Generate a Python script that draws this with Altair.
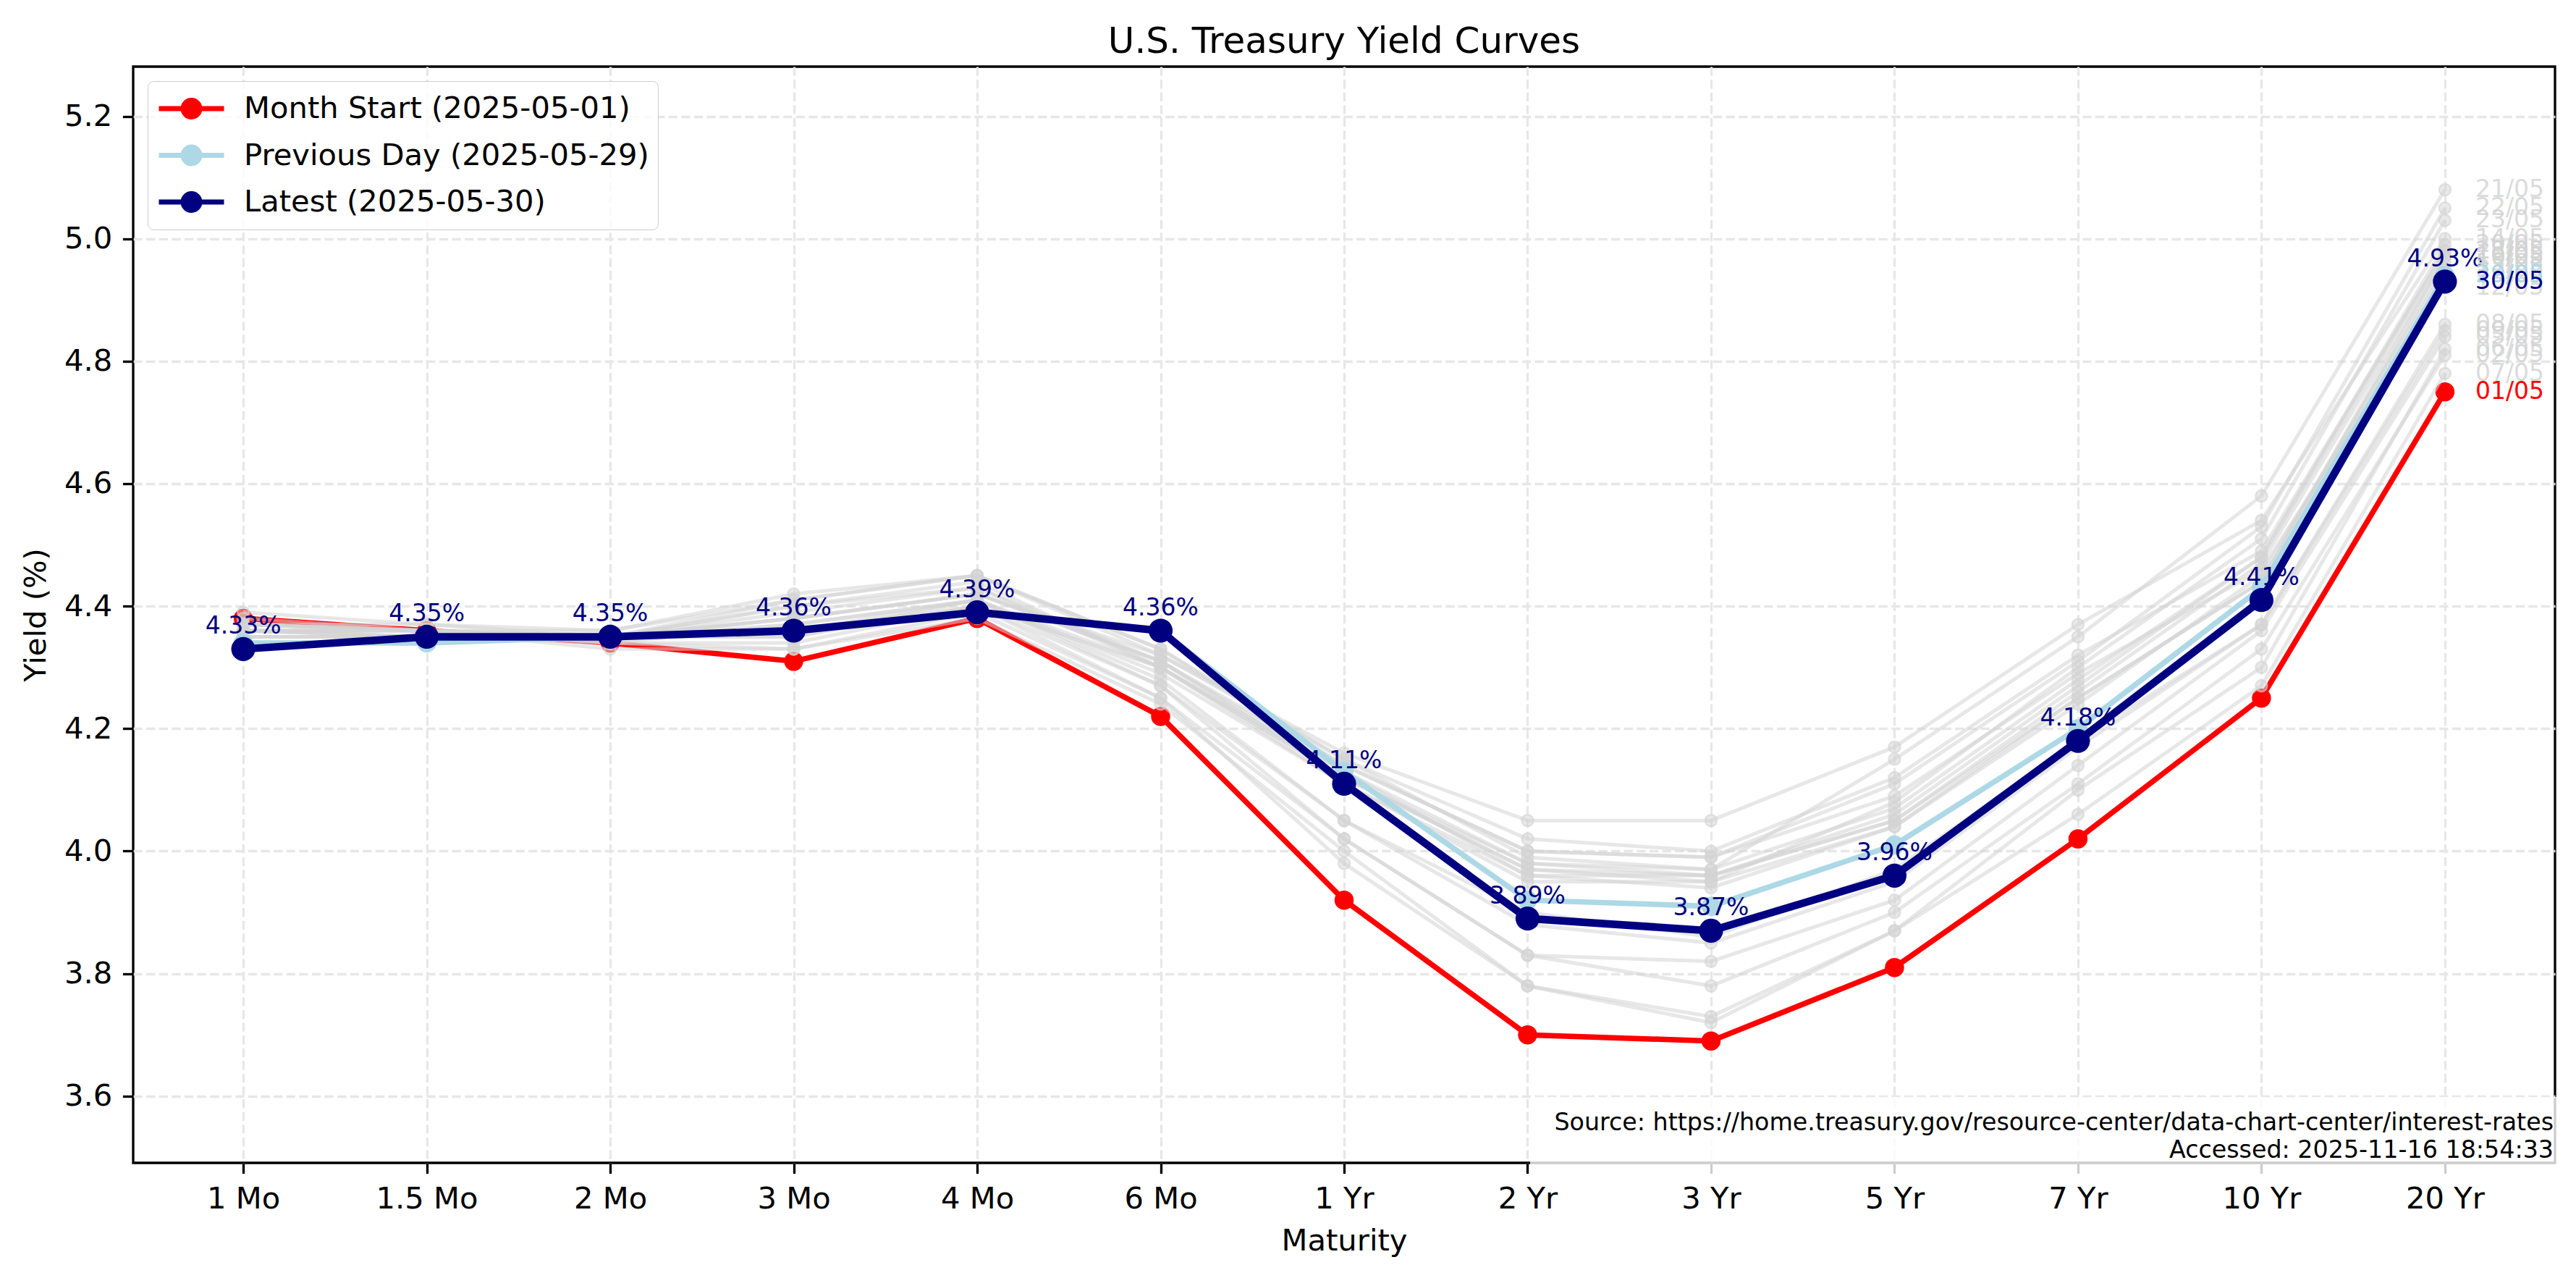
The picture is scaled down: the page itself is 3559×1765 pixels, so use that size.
import altair as alt
import pandas as pd

FONT = "DejaVu Sans"

maturities = ["1 Mo", "1.5 Mo", "2 Mo", "3 Mo", "4 Mo", "6 Mo", "1 Yr",
              "2 Yr", "3 Yr", "5 Yr", "7 Yr", "10 Yr", "20 Yr"]

# Highlighted curves (yield, %)
month_start = [4.38, 4.36, 4.34, 4.31, 4.38, 4.22, 3.92, 3.70, 3.69, 3.81, 4.02, 4.25, 4.75]
previous_day = [4.34, 4.34, 4.35, 4.36, 4.39, 4.36, 4.13, 3.92, 3.91, 4.01, 4.20, 4.43, 4.94]
latest = [4.33, 4.35, 4.35, 4.36, 4.39, 4.36, 4.11, 3.89, 3.87, 3.96, 4.18, 4.41, 4.93]

# Other trading days of the month
may_02 = [4.36, 4.36, 4.34, 4.34, 4.40, 4.25, 4.02, 3.83, 3.78, 3.90, 4.11, 4.33, 4.81]
may_05 = [4.37, 4.37, 4.35, 4.35, 4.40, 4.27, 4.02, 3.83, 3.82, 3.92, 4.14, 4.36, 4.84]
may_06 = [4.37, 4.36, 4.34, 4.33, 4.39, 4.25, 3.98, 3.78, 3.73, 3.87, 4.10, 4.30, 4.82]
may_07 = [4.38, 4.36, 4.33, 4.33, 4.38, 4.24, 4.00, 3.78, 3.72, 3.87, 4.06, 4.27, 4.78]
may_08 = [4.36, 4.36, 4.35, 4.35, 4.41, 4.27, 4.05, 3.90, 3.86, 3.97, 4.18, 4.37, 4.86]
may_09 = [4.37, 4.36, 4.35, 4.36, 4.41, 4.28, 4.05, 3.88, 3.85, 3.95, 4.17, 4.37, 4.85]
may_12 = [4.39, 4.37, 4.36, 4.41, 4.45, 4.33, 4.14, 4.00, 3.99, 4.09, 4.29, 4.46, 4.92]
may_13 = [4.37, 4.36, 4.36, 4.42, 4.45, 4.33, 4.15, 4.02, 4.00, 4.12, 4.32, 4.49, 4.98]
may_14 = [4.36, 4.36, 4.35, 4.41, 4.45, 4.32, 4.16, 4.05, 4.05, 4.17, 4.37, 4.54, 5.00]
may_15 = [4.36, 4.35, 4.35, 4.40, 4.44, 4.30, 4.11, 3.96, 3.94, 4.04, 4.25, 4.44, 4.96]
may_16 = [4.37, 4.36, 4.35, 4.40, 4.43, 4.31, 4.12, 3.98, 3.96, 4.05, 4.25, 4.44, 4.97]
may_19 = [4.36, 4.35, 4.35, 4.39, 4.43, 4.30, 4.12, 3.97, 3.96, 4.05, 4.26, 4.47, 4.97]
may_20 = [4.35, 4.35, 4.35, 4.38, 4.42, 4.31, 4.13, 3.98, 3.97, 4.07, 4.28, 4.48, 4.99]
may_21 = [4.36, 4.36, 4.35, 4.38, 4.42, 4.32, 4.15, 3.99, 3.97, 4.15, 4.35, 4.58, 5.08]
may_22 = [4.35, 4.35, 4.35, 4.38, 4.42, 4.31, 4.14, 4.00, 3.99, 4.11, 4.31, 4.53, 5.05]
may_23 = [4.36, 4.35, 4.34, 4.37, 4.41, 4.30, 4.12, 3.97, 3.95, 4.08, 4.30, 4.51, 5.03]
may_27 = [4.35, 4.35, 4.35, 4.37, 4.41, 4.29, 4.11, 3.95, 3.95, 4.04, 4.24, 4.45, 4.95]
may_28 = [4.34, 4.34, 4.35, 4.36, 4.40, 4.30, 4.13, 3.96, 3.96, 4.06, 4.27, 4.48, 4.98]

other_days = [
    ("02/05", may_02), ("05/05", may_05), ("06/05", may_06), ("07/05", may_07),
    ("08/05", may_08), ("09/05", may_09), ("12/05", may_12), ("13/05", may_13),
    ("14/05", may_14), ("15/05", may_15), ("16/05", may_16), ("19/05", may_19),
    ("20/05", may_20), ("21/05", may_21), ("22/05", may_22), ("23/05", may_23),
    ("27/05", may_27), ("28/05", may_28),
]

series_names = ["Month Start (2025-05-01)", "Previous Day (2025-05-29)", "Latest (2025-05-30)"]
series_colors = ["#ff0000", "#add8e6", "#000080"]
GRAY = "#d3d3d3"


def frame(values, series, day, color):
    return pd.DataFrame({
        "maturity": maturities,
        "yield": values,
        "series": series,
        "day": day,
        "tcolor": color,
    })


df_start = frame(month_start, series_names[0], "01/05", series_colors[0])
df_prev = frame(previous_day, series_names[1], "29/05", series_colors[1])
df_latest = frame(latest, series_names[2], "30/05", series_colors[2])
df_gray = pd.concat([frame(v, "other", d, GRAY) for d, v in other_days], ignore_index=True)
df_all = pd.concat([df_gray, df_start, df_prev, df_latest], ignore_index=True)

x_enc = alt.X(
    "maturity:N", sort=maturities, title="Maturity",
    scale=alt.Scale(type="point", padding=0.6),
    axis=alt.Axis(labelAngle=0),
)
y_enc = alt.Y(
    "yield:Q", title="Yield (%)",
    scale=alt.Scale(domain=[3.491, 5.281], nice=False, zero=False),
    axis=alt.Axis(values=[3.6, 3.8, 4.0, 4.2, 4.4, 4.6, 4.8, 5.0, 5.2], format=".1f"),
)

stroke_scale = alt.Scale(domain=series_names, range=series_colors)

# legend symbol: a short line with a filled dot in the middle
rings = "".join(
    f"M{1 + r:.2f},0A{r},{r},0,1,1,{1 - r:.2f},0A{r},{r},0,1,1,{1 + r:.2f},0"
    for r in (0.51, 0.36, 0.21, 0.06)
)
legend_symbol = "M-1,0L3,0" + rings

legend = alt.Legend(
    title=None, orient="top-left", offset=20, padding=12,
    strokeColor="#cccccc", fillColor="rgba(255,255,255,0.8)", cornerRadius=8,
    labelFont=FONT, labelFontSize=41.7, labelColor="black", labelLimit=2000,
    symbolType=legend_symbol, symbolSize=2025, symbolStrokeWidth=7,
    labelOffset=69, rowPadding=12.5,
)

start_line = alt.Chart(df_start).mark_line(strokeWidth=7.5).encode(
    x=x_enc, y=y_enc, stroke=alt.Stroke("series:N", scale=stroke_scale, legend=legend))
start_pts = alt.Chart(df_start).mark_circle(size=700, color=series_colors[0], opacity=1).encode(x=x_enc, y=y_enc)

gray_lines = alt.Chart(df_gray).mark_line(color=GRAY, strokeWidth=5, opacity=0.55).encode(
    x=x_enc, y=y_enc, detail="day:N")
gray_pts = alt.Chart(df_gray).mark_circle(
    size=260, fill=GRAY, fillOpacity=0.5, stroke=GRAY, strokeOpacity=0.6, strokeWidth=2.5
).encode(x=x_enc, y=y_enc)

prev_line = alt.Chart(df_prev).mark_line(strokeWidth=7.5).encode(
    x=x_enc, y=y_enc, stroke=alt.Stroke("series:N", scale=stroke_scale))
prev_pts = alt.Chart(df_prev).mark_circle(size=700, color=series_colors[1], opacity=1).encode(x=x_enc, y=y_enc)

latest_line = alt.Chart(df_latest).mark_line(strokeWidth=10.5).encode(
    x=x_enc, y=y_enc, stroke=alt.Stroke("series:N", scale=stroke_scale))
latest_pts = alt.Chart(df_latest).mark_circle(size=1100, color=series_colors[2], opacity=1).encode(x=x_enc, y=y_enc)

value_labels = alt.Chart(df_latest).transform_calculate(
    label="format(datum.yield, '.2f') + '%'"
).mark_text(
    font=FONT, fontSize=33, color=series_colors[2], align="center", baseline="alphabetic", dy=-21
).encode(x=x_enc, y=y_enc, text="label:N")

day_labels = alt.Chart(df_all).transform_filter(
    alt.datum.maturity == "20 Yr"
).mark_text(
    font=FONT, fontSize=33, align="left", baseline="middle", dx=42
).encode(
    x=x_enc, y=y_enc, text="day:N",
    color=alt.Color("tcolor:N", scale=None),
    opacity=alt.condition(alt.datum.series == "other", alt.value(0.8), alt.value(1.0)),
)

note_df = pd.DataFrame({"note": ["Source: https://home.treasury.gov/resource-center/data-chart-center/interest-rates\nAccessed: 2025-11-16 18:54:33"]})
note_box = alt.Chart(note_df).mark_rect(fill="white", opacity=0.8).encode(
    x=alt.value(1930), x2=alt.value(3366), y=alt.value(1423), y2=alt.value(1535))
note_text = alt.Chart(note_df).mark_text(
    font=FONT, fontSize=33.3, align="right", baseline="alphabetic",
    lineBreak="\n", lineHeight=38.5, color="black"
).encode(x=alt.value(3344), y=alt.value(1468.5), text="note:N")

chart = alt.layer(
    start_line, start_pts, gray_lines, gray_pts, prev_line, prev_pts,
    latest_line, latest_pts, value_labels, day_labels, note_box, note_text,
).properties(
    width=3346, height=1514,
    autosize=alt.AutoSizeParams(type="none"),
    padding={"left": 184, "top": 92, "right": 29, "bottom": 159},
    background="white",
    title=alt.Title("U.S. Treasury Yield Curves", font=FONT, fontSize=50,
                    fontWeight="normal", color="black", anchor="middle",
                    frame="group", offset=25, baseline="alphabetic", dy=56),
).configure(
    font=FONT,
).configure_view(
    stroke="black", strokeWidth=3.3,
).configure_axis(
    labelFont=FONT, labelFontSize=41.7, labelColor="black",
    titleFont=FONT, titleFontSize=41.7, titleFontWeight="normal", titleColor="black",
    tickColor="black", tickWidth=3.3, tickSize=14.6, labelPadding=14.6,
    domain=False, grid=True, gridColor="#e7e7e7", gridWidth=3.3, gridDash=[12.3, 5.3],
    titlePadding=17,
)

chart.save("out.html", embed_options={"renderer": "svg", "actions": False})
